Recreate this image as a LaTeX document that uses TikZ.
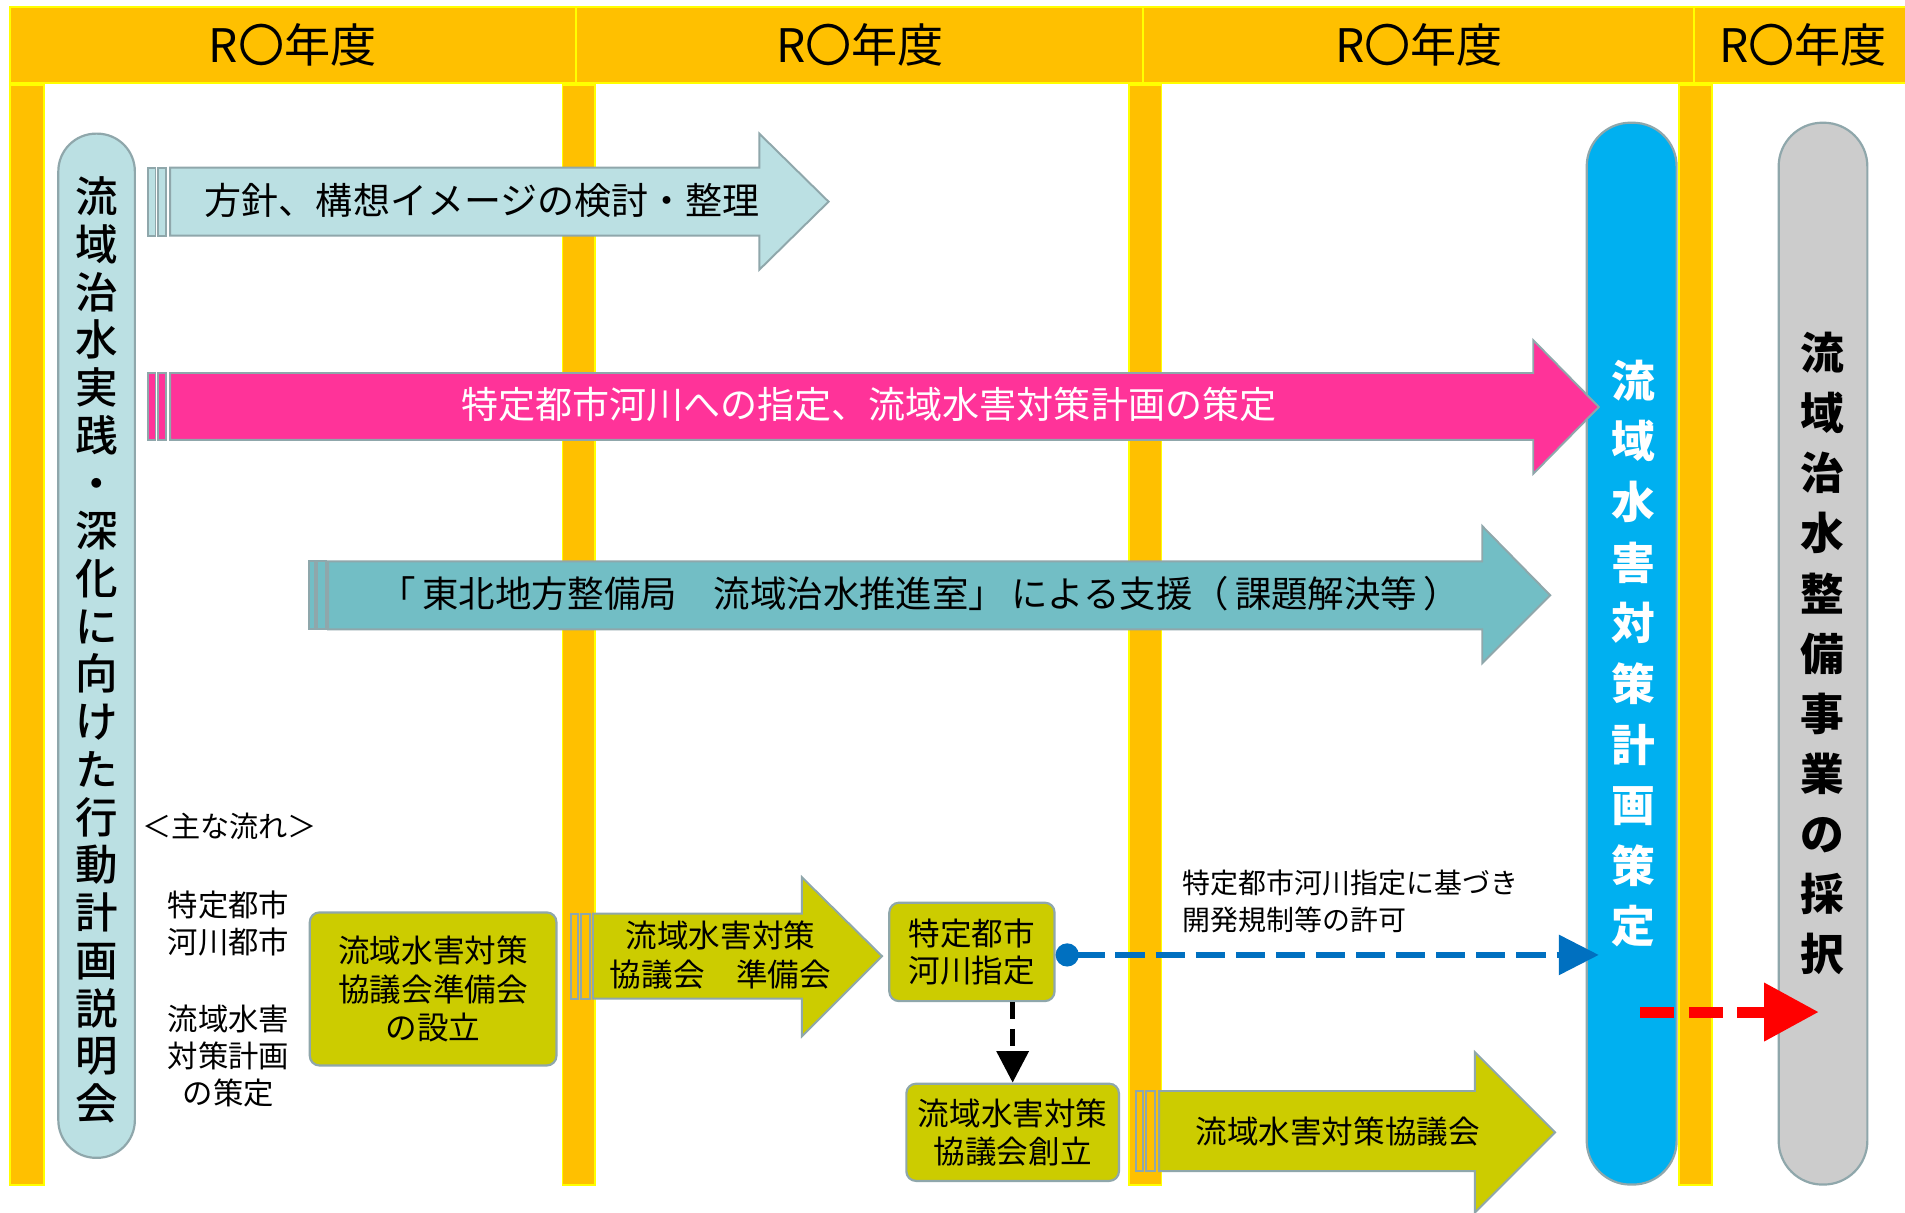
\documentclass[tikz,border=0pt]{standalone}
\usepackage{fontspec}
\setmainfont{Noto Sans CJK JP}
\newfontfamily\jpmed{Noto Sans CJK JP Medium}
\usetikzlibrary{arrows.meta}
\definecolor{hdrc}{HTML}{FFC000}
\definecolor{ylw}{HTML}{FFFF00}
\definecolor{lblue}{HTML}{BBE0E3}
\definecolor{bgray}{HTML}{8FA7AB}
\definecolor{pinkc}{HTML}{FF3399}
\definecolor{tealc}{HTML}{72BEC5}
\definecolor{olive}{HTML}{CCCC00}
\definecolor{skyc}{HTML}{00B0F0}
\definecolor{grayc}{HTML}{CCCCCC}
\definecolor{dblue}{HTML}{0070C0}
\tikzset{
  hdrcell/.style={fill=hdrc, draw=ylw, line width=1.6},
  barc/.style={fill=hdrc, draw=ylw, line width=1.6},
  abd/.style={draw=bgray, line width=1.6},
  pill/.style={draw=bgray, line width=1.8},
  obox/.style={fill=olive, draw=bgray, line width=1.8, rounded corners=8, inner sep=0pt},
  hdrtxt/.style={font=\fontsize{38}{40}\selectfont},
  atxt/.style={font=\fontsize{30.5}{32}\selectfont},
  btxt/.style={font=\fontsize{26}{31.5}\selectfont, align=center},
  stxt/.style={font=\fontsize{25}{30.5}\selectfont, align=center},
}
\begin{document}
\begin{tikzpicture}[x=1pt,y=-1pt]
\useasboundingbox (0,0) rectangle (1568,998);
\clip (0,0) rectangle (1568,998);
\fill[white] (0,0) rectangle (1568,998);
% header
\path[hdrcell] (8,6) rectangle (474,68);
\path[hdrcell] (474,6) rectangle (941,68);
\path[hdrcell] (941,6) rectangle (1394,68);
\path[hdrcell] (1394,6) rectangle (1575,68);
\node[hdrtxt] (h1) at (241,37) {R〇年度};
\node[hdrtxt] (h2) at (708,37) {R〇年度};
\node[hdrtxt] (h3) at (1168,37) {R〇年度};
\node[hdrtxt] (h4) at (1484,37) {R〇年度};
% vertical bars
\path[barc] (8,70) rectangle (36,975);
\path[barc] (463,70) rectangle (490,975);
\path[barc] (929,70) rectangle (956,975);
\path[barc] (1382,70) rectangle (1409,975);
% pills
\path[pill, fill=lblue, rounded corners=31] (48,110) rectangle (111,953);
\node[font=\jpmed\fontsize{35}{39.3}\selectfont, align=center] (lp) at (80,535)
  {流\\域\\治\\水\\実\\践\\・\\深\\化\\に\\向\\け\\た\\行\\動\\計\\画\\説\\明\\会};
\path[pill, fill=skyc, rounded corners=36] (1306,101) rectangle (1380,975);
\node[font=\fontsize{36}{49.9}\selectfont\bfseries, text=white, align=center] (bp) at (1344,538)
  {流\\域\\水\\害\\対\\策\\計\\画\\策\\定};
\path[pill, fill=grayc, rounded corners=36] (1464,101) rectangle (1537,975);
\node[font=\fontsize{36}{49.5}\selectfont\bfseries, align=center] (gp) at (1500,538)
  {流\\域\\治\\水\\整\\備\\事\\業\\の\\採\\択};
% arrow 1
\path[abd, fill=lblue] (122,138) rectangle (128,194);
\path[abd, fill=lblue] (130,138) rectangle (137,194);
\path[abd, fill=lblue] (140,138) -- (625,138) -- (625,110) -- (682,166) -- (625,222) -- (625,194) -- (140,194) -- cycle;
\node[atxt] (a1) at (397,165) {方針、構想イメージの検討・整理};
% arrow 2
\path[abd, fill=pinkc] (122,307) rectangle (128,362);
\path[abd, fill=pinkc] (130,307) rectangle (137,362);
\path[abd, fill=pinkc] (140,307) -- (1262,307) -- (1262,280) -- (1316,335) -- (1262,390) -- (1262,362) -- (140,362) -- cycle;
\node[atxt, text=white] (a2) at (715,333) {特定都市河川への指定、流域水害対策計画の策定};
% arrow 3
\path[abd, fill=tealc] (254,462) rectangle (259,518);
\path[abd, fill=tealc] (261,462) rectangle (268,518);
\path[abd, fill=tealc] (270,462) -- (1220,462) -- (1220,433) -- (1276,490) -- (1220,546) -- (1220,518) -- (270,518) -- cycle;
\node[font=\fontsize{30}{32}\selectfont] (a3) at (757,489) {「\,東北地方整備局　流域治水推進室」\,による支援（\,課題解決等\,）};
% left labels
\node[font=\fontsize{24}{28}\selectfont] (lab0) at (189,680) {＜主な流れ＞};
\node[stxt] (lab1) at (188,760) {特定都市\\河川都市};
\node[stxt] (lab2) at (188,869.5) {流域水害\\対策計画\\の策定};
% box 1
\node[obox, minimum width=203, minimum height=126] (b1) at (356.5,814) {};
\node[btxt] at (b1.center) {流域水害対策\\協議会準備会\\の設立};
% arrow 4
\path[abd, fill=hdrc] (470,752) rectangle (476,822);
\path[abd, fill=hdrc] (478,752) rectangle (486,822);
\path[abd, fill=olive] (488,752) -- (660,752) -- (660,722) -- (726,787) -- (660,853) -- (660,822) -- (488,822) -- cycle;
\node[btxt] (a4) at (593,786) {流域水害対策\\協議会　準備会};
% box 2
\node[obox, minimum width=136, minimum height=81] (sg) at (800,783.5) {};
\node[btxt, font=\fontsize{26}{30}\selectfont] at (sg.center) {特定都市\\河川指定};
% box 3
\node[obox, minimum width=175, minimum height=80] (kyo) at (833.5,932) {};
\node[btxt, font=\fontsize{26}{31}\selectfont] at (kyo.center) {流域水害対策\\協議会創立};
% arrow 5
\path[abd, fill=hdrc] (935,898) rectangle (941,964);
\path[abd, fill=hdrc] (943,898) rectangle (951,964);
\path[abd, fill=olive] (954,898) -- (1214,898) -- (1214,866) -- (1280,932) -- (1214,998) -- (1214,964) -- (954,964) -- cycle;
\node[btxt] (a5) at (1101,931) {流域水害対策協議会};
% annotation
\node[font=\fontsize{23}{30}\selectfont, align=left, anchor=west] (ann) at (970,742)
  {特定都市河川指定に基づき\\開発規制等の許可};
% connectors
\coordinate (btip) at (1316,786);
\draw[dblue, line width=5.5, dash pattern=on 24 off 9, {Circle[length=19, width=19]}-{Triangle[length=33, width=32]}]
  (sg.east |- btip) -- (btip);
\draw[black, line width=4, dash pattern=on 14 off 8, -{Triangle[length=26, width=26]}]
  (kyo.north |- sg.south) -- (kyo.north);
\coordinate (rs) at (1350,833);
\coordinate (rt) at (1497,833);
\draw[red, line width=9, dash pattern=on 28 off 12, -{Triangle[length=45, width=46]}] (rs) -- (rt);
\end{tikzpicture}
\end{document}
